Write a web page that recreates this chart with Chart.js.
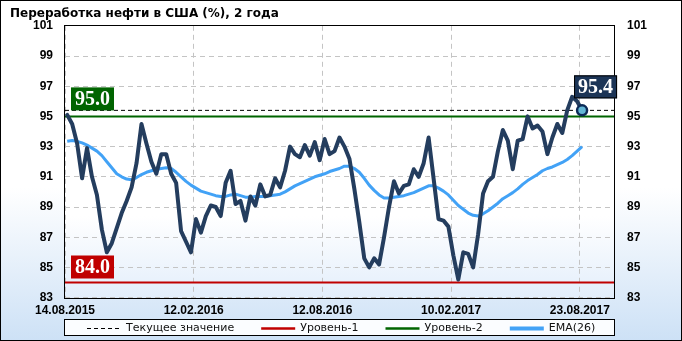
<!DOCTYPE html>
<html>
<head>
<meta charset="utf-8">
<script src="https://cdn.jsdelivr.net/npm/chart.js@4.4.1/dist/chart.umd.min.js"></script>
<style>
  html, body { margin: 0; padding: 0; background: #fff; }
  canvas { display: block; }
</style>
</head>
<body>
<canvas id="chart" width="682" height="341"></canvas>
<script>
// --- data (weekly, 14.08.2015 .. 23.08.2017) ---
const TITLE = 'Переработка нефти в США (%), 2 года';
const TICK_LABELS = ['14.08.2015', '12.02.2016', '12.08.2016', '10.02.2017', '23.08.2017'];
const TICK_WEEKS = [0, 26, 52, 78, 104];
const REFINERY = [
  95.1, 94.5, 93.2, 90.9, 92.9, 91.0, 89.8, 87.5, 86.0, 86.6,
  87.6, 88.6, 89.4, 90.3, 91.9, 94.5, 93.2, 92.0, 91.2, 92.5,
  92.5, 91.2, 90.6, 87.4, 86.7, 86.0, 88.2, 87.3, 88.4, 89.1,
  89.0, 88.4, 90.6, 91.4, 89.2, 89.4, 88.1, 89.7, 89.1, 90.5,
  89.7, 89.8, 90.9, 90.3, 91.4, 93.0, 92.5, 92.3, 93.1, 92.4,
  93.3, 92.1, 93.5, 92.5, 92.7, 93.6, 93.0, 92.2, 90.2, 88.0,
  85.6, 85.0, 85.6, 85.2, 87.0, 89.0, 90.7, 89.9, 90.4, 90.5,
  91.5, 91.0, 91.9, 93.6, 90.9, 88.2, 88.1, 87.7, 85.8, 84.2,
  86.0, 85.9, 85.0, 87.2, 89.9, 90.7, 91.0, 92.7, 94.1, 93.4,
  91.5, 93.4, 93.5, 95.0, 94.2, 94.4, 94.0, 92.5, 93.6, 94.5,
  93.9, 95.4, 96.3, 96.0, 95.4
];
const EMA26 = [
  93.35, 93.4, 93.35, 93.25, 93.1, 92.9, 92.7, 92.4, 92.0, 91.6,
  91.2, 91.0, 90.85, 90.8, 90.95, 91.15, 91.3, 91.4, 91.5, 91.55,
  91.6, 91.55, 91.3, 91.0, 90.7, 90.45, 90.25, 90.05, 89.95, 89.85,
  89.75, 89.7, 89.7, 89.8, 89.85, 89.75, 89.65, 89.65, 89.7, 89.7,
  89.7, 89.75, 89.8, 89.85, 90.0, 90.2, 90.4, 90.55, 90.7, 90.85,
  91.0, 91.1, 91.2, 91.35, 91.45, 91.55, 91.7, 91.7, 91.55, 91.3,
  90.9, 90.45, 90.1, 89.8, 89.6, 89.6, 89.65, 89.7, 89.75, 89.85,
  89.95, 90.1, 90.25, 90.4, 90.4, 90.25, 90.05, 89.8, 89.45, 89.1,
  88.85, 88.6, 88.45, 88.4, 88.55, 88.75, 89.0, 89.25, 89.55, 89.75,
  89.95, 90.2, 90.5, 90.75, 90.95, 91.15, 91.4, 91.55, 91.65, 91.8,
  91.95, 92.15, 92.4, 92.7, 93.0
];
const LEVEL_1 = 84.0;
const LEVEL_2 = 95.0;
const CURRENT = REFINERY[REFINERY.length - 1];

const Y_MIN = 83, Y_MAX = 101;
const X_MAX = 110.9;      // axis runs a few weeks past the last point
const SHIFT = 0.45;       // points sit a little right of the date ticks

const NAVY = '#243d5e', BLUE = '#42a2f6', RED = '#c00000', GREEN = '#006400';
const TICK_FONT = { family: 'Liberation Sans', size: 12, weight: 'bold' };

const series = REFINERY.map((v, i) => ({ x: i + SHIFT, y: v }));
const ema = EMA26.map((v, i) => ({ x: i + SHIFT, y: v }));
const flat = v => [{ x: 0, y: v }, { x: X_MAX, y: v }];

function tag(ctx, text, fill, x, bottom, edge) {
  ctx.font = 'bold 20px "Liberation Serif"';
  const w = Math.round(ctx.measureText(text).width) + 8, h = 23;
  ctx.fillStyle = fill;
  ctx.fillRect(x, bottom - h, w, h);
  if (edge) {
    ctx.strokeStyle = edge; ctx.lineWidth = 1;
    ctx.strokeRect(x + 0.5, bottom - h + 0.5, w - 1, h - 1);
  }
  ctx.fillStyle = '#fff';
  ctx.textAlign = 'left'; ctx.textBaseline = 'middle';
  ctx.fillText(text, x + 4, bottom - h / 2 + 1);
}

const decor = {
  id: 'decor',
  beforeDraw(chart) {
    const { ctx, width, height, chartArea: a } = chart;
    ctx.save();
    let g = ctx.createLinearGradient(0, 0, 0, height);
    g.addColorStop(0, '#ffffff'); g.addColorStop(0.55, '#ffffff'); g.addColorStop(1, '#cde1f6');
    ctx.fillStyle = g; ctx.fillRect(0, 0, width, height);
    g = ctx.createLinearGradient(0, a.top, 0, a.bottom);
    g.addColorStop(0, '#ffffff'); g.addColorStop(0.7, '#ffffff'); g.addColorStop(1, '#e3eefb');
    ctx.fillStyle = g; ctx.fillRect(a.left, a.top, a.right - a.left, a.bottom - a.top);
    ctx.restore();
  },
  afterDraw(chart) {
    const { ctx, width, height, chartArea: a, scales } = chart;
    const y = scales.y;
    ctx.save();
    // plot frame and outer frame
    ctx.strokeStyle = '#000'; ctx.lineWidth = 1;
    ctx.strokeRect(Math.round(a.left) - 0.5, Math.round(a.top) - 0.5,
      Math.round(a.right - a.left) + 1, Math.round(a.bottom - a.top) + 1);
    ctx.strokeRect(0.5, 0.5, width - 1, height - 1);

    // level tags
    tag(ctx, LEVEL_2.toFixed(1), GREEN, a.left + 6, y.getPixelForValue(LEVEL_2) - 6);
    tag(ctx, LEVEL_1.toFixed(1), RED, a.left + 6, y.getPixelForValue(LEVEL_1) - 4);
    const last = chart.getDatasetMeta(0).data[REFINERY.length - 1];
    tag(ctx, CURRENT.toFixed(1), '#1c3557', last.x - 8, last.y - 12, '#000');

    // legend
    const items = chart.data.datasets.slice(1);
    ctx.font = '11px "DejaVu Sans"';
    const lineLen = 34, gap = 5, space = 27;
    let total = 0;
    items.forEach((d, i) => { total += lineLen + gap + ctx.measureText(d.label).width + (i ? space : 0); });
    let x = Math.round(width / 2 - total / 2);
    const ly = 328;
    ctx.fillStyle = '#fbfdff';
    ctx.fillRect(Math.round(a.left) - 1, 320, Math.round(a.right - a.left) + 2, 16);
    ctx.strokeStyle = '#000'; ctx.lineWidth = 1;
    ctx.strokeRect(Math.round(a.left) - 0.5, 319.5, Math.round(a.right - a.left) + 1, 16);
    items.forEach(d => {
      ctx.beginPath();
      ctx.strokeStyle = d.borderColor;
      ctx.lineWidth = d.label === 'EMA(26)' ? 4 : (d.borderDash ? 1 : 2.5);
      ctx.setLineDash(d.borderDash || []);
      ctx.moveTo(x, ly + 0.5); ctx.lineTo(x + lineLen, ly + 0.5);
      ctx.stroke();
      ctx.setLineDash([]);
      x += lineLen + gap;
      ctx.fillStyle = '#111'; ctx.textAlign = 'left'; ctx.textBaseline = 'middle';
      ctx.fillText(d.label, x, ly);
      x += ctx.measureText(d.label).width + space;
    });
    ctx.restore();
  }
};

new Chart(document.getElementById('chart'), {
  type: 'line',
  data: {
    datasets: [
      { label: 'Переработка', data: series, borderColor: NAVY, borderWidth: 4, borderJoinStyle: 'round', borderCapStyle: 'round',
        pointRadius: c => c.dataIndex === REFINERY.length - 1 ? 5 : 0,
        pointBackgroundColor: '#63b7d6', pointBorderColor: '#0b2a57', pointBorderWidth: 2.5 },
      { label: 'Текущее значение', data: flat(CURRENT), borderColor: '#000', borderWidth: 1, borderDash: [4, 3], pointRadius: 0 },
      { label: 'Уровень-1', data: flat(LEVEL_1), borderColor: RED, borderWidth: 2, pointRadius: 0 },
      { label: 'Уровень-2', data: flat(LEVEL_2), borderColor: GREEN, borderWidth: 2, pointRadius: 0 },
      { label: 'EMA(26)', data: ema, borderColor: BLUE, borderWidth: 3, pointRadius: 0, borderJoinStyle: 'round' }
    ]
  },
  options: {
    responsive: false, animation: false, devicePixelRatio: 1,
    layout: { padding: { left: 10, right: 0, top: 0, bottom: 17 } },
    plugins: {
      legend: { display: false },
      tooltip: { enabled: false },
      title: { display: true, text: TITLE, align: 'start', color: '#000',
        font: { family: 'DejaVu Sans', size: 12, weight: 'bold' }, padding: { top: 7, bottom: 4.4 } }
    },
    scales: {
      x: { type: 'linear', min: 0, max: X_MAX,
        afterBuildTicks: s => { s.ticks = TICK_WEEKS.map(v => ({ value: v })); },
        ticks: { callback: (v, i) => TICK_LABELS[i], font: TICK_FONT, color: '#000', padding: 6, maxRotation: 0, autoSkip: false },
        grid: { color: '#c4c4c4', drawTicks: false },
        border: { display: false, dash: [5, 4] } },
      y: { min: Y_MIN, max: Y_MAX, afterFit: s => { s.width = 55; },
        ticks: { stepSize: 2, font: TICK_FONT, color: '#000', padding: 12 },
        grid: { color: '#c4c4c4', drawTicks: false },
        border: { display: false, dash: [5, 4] } },
      y2: { position: 'right', min: Y_MIN, max: Y_MAX, afterFit: s => { s.width = 68; },
        ticks: { stepSize: 2, font: TICK_FONT, color: '#000', padding: 13 },
        grid: { display: false, drawTicks: false },
        border: { display: false } }
    }
  },
  plugins: [decor]
});
</script>
</body>
</html>
